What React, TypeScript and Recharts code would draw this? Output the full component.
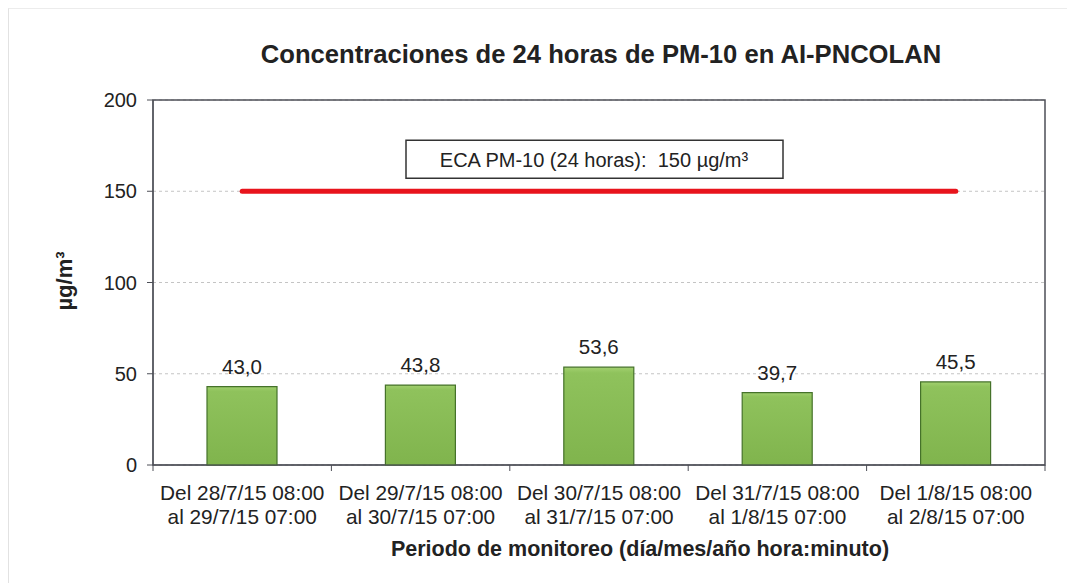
import React from "react";
import {
  ComposedChart,
  Bar,
  Line,
  XAxis,
  YAxis,
  CartesianGrid,
  LabelList,
  ReferenceArea,
} from "recharts";

const periodStart = [
  "Del 28/7/15 08:00",
  "Del 29/7/15 08:00",
  "Del 30/7/15 08:00",
  "Del 31/7/15 08:00",
  "Del 1/8/15 08:00",
];
const periodEnd = [
  "al 29/7/15 07:00",
  "al 30/7/15 07:00",
  "al 31/7/15 07:00",
  "al 1/8/15 07:00",
  "al 2/8/15 07:00",
];
const pm10 = [43.0, 43.8, 53.6, 39.7, 45.5];
const ecaLimit = 150;
const yTicks = [0, 50, 100, 150, 200];

const data = periodStart.map((start, i) => ({
  period: start,
  pm10: pm10[i],
  eca: ecaLimit,
}));

const FONT = "'Liberation Sans', Arial, sans-serif";
const TEXT = "#222";
const AXIS = "#4d4f57";

// category labels on two lines + tick marks between categories
const PeriodTick = (props: any) => {
  const { x, y, payload, index, visibleTicksCount } = props;
  const count = visibleTicksCount || periodStart.length;
  const half = (Number(props.width) || 892) / count / 2;
  return (
    <g>
      <line x1={x - half} y1={y} x2={x - half} y2={y + 6} stroke={AXIS} />
      {index === count - 1 && (
        <line x1={x + half} y1={y} x2={x + half} y2={y + 6} stroke={AXIS} />
      )}
      <text
        x={x}
        y={y}
        textAnchor="middle"
        fontFamily={FONT}
        fontSize={20.8}
        fill={TEXT}
      >
        <tspan x={x} dy={35}>
          {payload.value}
        </tspan>
        <tspan x={x} dy={24}>
          {periodEnd[index]}
        </tspan>
      </text>
    </g>
  );
};

const EcaLabel = (props: any) => {
  const { x, y, index } = props;
  if (index !== 2) return null;
  return (
    <g>
      <rect
        x={x - 193}
        y={y - 51}
        width={377}
        height={38}
        fill="#fff"
        stroke="#333"
        strokeWidth={1.5}
      />
      <text
        x={x - 5}
        y={y - 31}
        textAnchor="middle"
        dominantBaseline="central"
        fontFamily={FONT}
        fontSize={20}
        fill={TEXT}
      >
        ECA PM-10 (24 horas):{"\u00a0\u00a0"}150 µg/m³
      </text>
    </g>
  );
};

export default function App() {
  return (
    <div
      style={{
        position: "absolute",
        left: 0,
        top: 0,
        width: 1067,
        height: 583,
        background: "#fff",
        fontFamily: FONT,
      }}
    >
      <div
        style={{
          position: "absolute",
          left: 8,
          top: 8,
          width: 1059,
          height: 575,
          borderLeft: "1px solid #e2e2e2",
          borderTop: "1px solid #ececec",
        }}
      />
      <div
        style={{
          position: "absolute",
          top: 40,
          left: 0,
          width: 1202,
          textAlign: "center",
          fontSize: 25.6,
          fontWeight: "bold",
          color: TEXT,
        }}
      >
        Concentraciones de 24 horas de PM-10 en AI-PNCOLAN
      </div>
      <div
        style={{
          position: "absolute",
          top: 537,
          left: 0,
          width: 1280,
          textAlign: "center",
          fontSize: 21.5,
          fontWeight: "bold",
          color: TEXT,
        }}
      >
        Periodo de monitoreo (día/mes/año hora:minuto)
      </div>
      <div
        style={{
          position: "absolute",
          left: 65,
          top: 281,
          transform: "translate(-50%, -50%) rotate(-90deg)",
          fontSize: 22,
          fontWeight: "bold",
          color: TEXT,
          whiteSpace: "nowrap",
        }}
      >
        µg/m³
      </div>
      <div style={{ position: "absolute", left: 0, top: 0 }}>
        <ComposedChart
          width={1067}
          height={583}
          data={data}
          margin={{ top: 100, right: 22, left: 93, bottom: 50 }}
        >
          <defs>
            <linearGradient id="barFill" x1="0" y1="0" x2="0" y2="1">
              <stop offset="0%" stopColor="#a2d06f" />
              <stop offset="6%" stopColor="#8fc25c" />
              <stop offset="100%" stopColor="#80b44d" />
            </linearGradient>
          </defs>
          <CartesianGrid
            vertical={false}
            stroke="#c4c4c4"
            strokeDasharray="3 3"
          />
          <XAxis
            dataKey="period"
            height={68}
            stroke={AXIS}
            tickLine={false}
            tickSize={0}
            tickMargin={0}
            interval={0}
            tick={<PeriodTick />}
          />
          <YAxis
            domain={[0, 200]}
            ticks={yTicks}
            width={60}
            stroke={AXIS}
            tickSize={6}
            tickMargin={10}
            tick={{ fill: TEXT, fontSize: 20, fontFamily: FONT }}
          />
          <ReferenceArea
            y1={0}
            y2={200}
            fill="none"
            stroke={AXIS}
            strokeWidth={1.5}
            ifOverflow="visible"
          />
          <Bar
            dataKey="pm10"
            barSize={70}
            fill="url(#barFill)"
            stroke="#45722a"
            strokeWidth={1.2}
            isAnimationActive={false}
          >
            <LabelList
              dataKey="pm10"
              position="top"
              offset={13}
              fill={TEXT}
              fontSize={20.5}
              fontFamily={FONT}
              formatter={(v: any) => Number(v).toFixed(1).replace(".", ",")}
            />
          </Bar>
          <Line
            dataKey="eca"
            stroke="#e8141c"
            strokeWidth={5}
            strokeLinecap="round"
            dot={false}
            activeDot={false}
            isAnimationActive={false}
          >
            <LabelList dataKey="eca" content={<EcaLabel />} />
          </Line>
        </ComposedChart>
      </div>
    </div>
  );
}
